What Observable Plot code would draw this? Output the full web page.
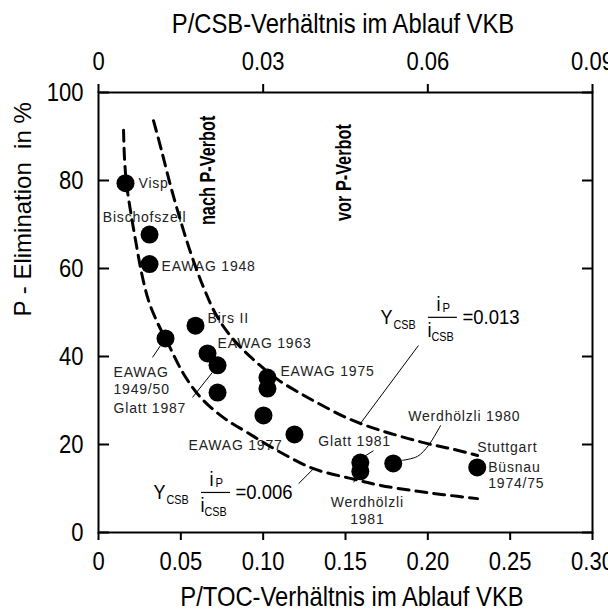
<!DOCTYPE html>
<html><head><meta charset="utf-8">
<script src="https://cdn.jsdelivr.net/npm/d3@7"></script>
<script src="https://cdn.jsdelivr.net/npm/@observablehq/plot@0.6"></script>
<style>html,body{margin:0;padding:0;background:#fff} svg text{white-space:pre}</style>
</head><body><div id="chart"></div>
<script>
// ---------- data ----------
const siteNames = ["Visp","Bischofszell","EAWAG 1948","EAWAG 1949/50","Birs II","EAWAG 1963","Glatt 1987","EAWAG (o.N.)","EAWAG 1975 a","EAWAG 1975 b","EAWAG 1977","Glatt (o.N.)","Glatt 1981","Werdhölzli 1981","Werdhölzli 1980","Stuttgart Büsnau 1974/75"];
const pToc  = [0.0164,0.031,0.031,0.0407,0.0589,0.0662,0.0723,0.0723,0.1026,0.1026,0.1002,0.119,0.159,0.159,0.179,0.230];
const pElim = [79.4,67.7,61.0,44.1,47.0,40.7,38.0,31.8,35.2,32.7,26.6,22.3,15.9,13.9,15.7,14.8];

// lines of constant Y_CSB * iP/iCSB
const ycsbValues = ["0.006","0.013"];
const lowToc  = [0.0152,0.0158,0.0170,0.0194,0.0225,0.0261,0.0304,0.0358,0.0419,0.0516,0.0620,0.0759,0.0905,0.1087,0.1306,0.1530,0.1713,0.1913,0.2095,0.2302];
const lowElim = [91.4,85.0,79.3,73.2,66.4,59.1,52.7,47.7,43.2,36.1,30.7,26.1,22.7,18.6,14.5,12.3,10.7,9.5,8.6,7.7];
const highToc  = [0.0334,0.0383,0.0437,0.0498,0.0565,0.0638,0.0717,0.0814,0.0935,0.1087,0.1227,0.1348,0.1488,0.1610,0.1773,0.1998,0.2156,0.2302];
const highElim = [93.6,86.8,78.9,70.9,63.0,55.7,49.3,44.1,39.5,34.8,31.6,29.1,26.4,24.5,22.5,20.2,18.9,17.5];

// axes
const tocTicks = [0,0.05,0.10,0.15,0.20,0.25,0.30];
const tocTickLabels = ["0","0.05","0.10","0.15","0.20","0.25","0.30"];
const csbTicks = [0,0.03,0.06,0.09];
const csbTickLabels = ["0","0.03","0.06","0.09"];
const elimTicks = [0,20,40,60,80,100];
const tocAxisMax = 0.30, csbAxisMax = 0.09;

const xTitleBottom = "P/TOC-Verhältnis im Ablauf VKB";
const xTitleTop = "P/CSB-Verhältnis im Ablauf VKB";
const yTitle = "P - Elimination  in %";
const periodLabels = ["nach P-Verbot","vor P-Verbot"];

// ---------- layout ----------
const W = 608, H = 611, ML = 98, MR = 16, MT = 92, MB = 79;
const FW = W - ML - MR;
const FONT = "'Liberation Sans', Arial, Helvetica, sans-serif";

const points = pToc.map((x,i) => ({x, y: pElim[i], name: siteNames[i]}));
const lowCurve = lowToc.map((x,i) => ({x, y: lowElim[i]}));
const highCurve = highToc.map((x,i) => ({x, y: highElim[i]}));

// label placement: point index + pixel offsets
const labelLayout = [
  {text:"Visp", p:0, dx:13, dy:0, anchor:"start"},
  {text:"Bischofszell", p:1, dx:-5, dy:-18, anchor:"middle"},
  {text:"EAWAG 1948", p:2, dx:12, dy:2, anchor:"start"},
  {text:"EAWAG\n1949/50", p:3, dx:-52, dy:42, anchor:"start"},
  {text:"Glatt 1987", p:6, dx:-104, dy:42, anchor:"start"},
  {text:"Birs II", p:4, dx:12, dy:-8, anchor:"start"},
  {text:"EAWAG 1963", p:5, dx:10, dy:-11, anchor:"start"},
  {text:"EAWAG 1975", p:8, dx:13, dy:-7, anchor:"start"},
  {text:"EAWAG 1977", p:10, dx:-75, dy:29, anchor:"start"},
  {text:"Glatt 1981", p:12, dx:-42, dy:-22, anchor:"start"},
  {text:"Werdhölzli\n1981", p:13, dx:7, dy:39, anchor:"middle"},
  {text:"Werdhölzli 1980", p:14, dx:15, dy:-48, anchor:"start"},
  {text:"Stuttgart", p:15, dx:0, dy:-21, anchor:"start"},
  {text:"Büsnau\n1974/75", p:15, dx:11, dy:7.5, anchor:"start"}
];

// leader lines (data units)
const leaders = [
  {x1:0.0328,y1:39.8,x2:0.0377,y2:42.5},
  {x1:0.0571,y1:30.7,x2:0.0692,y2:36.4},
  {x1:0.1615,y1:17.3,x2:0.1670,y2:18.6},
  {x1:0.1549,y1:11.4,x2:0.1579,y2:13.0},
  {x1:0.1943,y1:42.5,x2:0.1591,y2:24.8},
  {x1:0.1215,y1:11.1,x2:0.1306,y2:14.5}
];
const werd80Leader = [{x:0.1846,y:16.4},{x:0.1937,y:17.3},{x:0.2004,y:19.8},{x:0.2077,y:24.3}];

const formulaAnchors = [{x:0.0334, y:9.1, v:ycsbValues[0]}, {x:0.1712, y:48.9, v:ycsbValues[1]}];
const formulaPieces = [
  {t:"Y", dx:0, dy:0, size:20},
  {t:"CSB", dx:13, dy:8, size:12},
  {t:"i", dx:56, dy:-13, size:20},
  {t:"P", dx:62, dy:-9, size:12.5},
  {t:"i", dx:47, dy:13, size:20},
  {t:"CSB", dx:51, dy:20, size:12}
];
const periodAnchors = [{x:0.0662, y:82.3}, {x:0.1488, y:81.8}];

const fracSymbol = {draw(ctx){ ctx.moveTo(-14.5,0); ctx.lineTo(14.5,0); }};

const labelMarks = labelLayout.map(l => Plot.text([points[l.p]], {
  x:"x", y:"y", text:()=>l.text, dx:l.dx, dy:l.dy, textAnchor:l.anchor,
  fontSize:14, lineHeight:1.18, fill:"#222", ariaDescription:"label"
}));
const formulaMarks = [];
for (const pc of formulaPieces) {
  formulaMarks.push(Plot.text(formulaAnchors, {x:"x", y:"y", text:()=>pc.t, dx:pc.dx, dy:pc.dy, textAnchor:"start", fontSize:pc.size, fill:"black", ariaDescription:"cond:0.9"}));
}
formulaMarks.push(Plot.text(formulaAnchors, {x:"x", y:"y", text:d=>"="+d.v, dx:82, dy:0, textAnchor:"start", fontSize:19.5, fill:"black", ariaDescription:"cond:0.95"}));
formulaMarks.push(Plot.dot(formulaAnchors, {x:"x", y:"y", dx:62, dy:0, symbol:fracSymbol, stroke:"black", fill:"none", strokeWidth:1.2}));

const findLabel = (ticks, labels, scale) => d => {
  const i = ticks.findIndex(v => Math.abs(v*scale - d) < 1e-9);
  return i < 0 ? "" : labels[i];
};

const chart = Plot.plot({
  width: W, height: H,
  marginLeft: ML, marginRight: MR, marginTop: MT, marginBottom: MB,
  x: {domain:[0, tocAxisMax], label:null},
  y: {domain:[0, 100], label:null},
  style: {fontFamily: FONT, background:"white", color:"black", overflow:"visible"},
  marks: [
    ...labelMarks,
    Plot.link(leaders, {x1:"x1", y1:"y1", x2:"x2", y2:"y2", stroke:"black", strokeWidth:1}),
    Plot.line(werd80Leader, {x:"x", y:"y", curve:"catmull-rom", stroke:"black", strokeWidth:1}),
    ...formulaMarks,
    Plot.text(periodAnchors, {x:"x", y:"y", text:(d,i)=>periodLabels[i], rotate:-90, fontSize:22, fontWeight:"bold", fill:"black", ariaDescription:"cond:0.74"}),
    Plot.line(lowCurve, {x:"x", y:"y", curve:"catmull-rom", stroke:"black", strokeWidth:3, strokeDasharray:"11,7"}),
    Plot.line(highCurve, {x:"x", y:"y", curve:"catmull-rom", stroke:"black", strokeWidth:3, strokeDasharray:"11,7"}),
    Plot.dot(points, {x:"x", y:"y", r:9, fill:"black", stroke:"none"}),
    Plot.frame({stroke:"black", strokeWidth:2}),
    Plot.axisX(tocTicks, {anchor:"bottom", tickSize:8, tickPadding:12, strokeWidth:2, fontSize:25, label:null, tickFormat:findLabel(tocTicks, tocTickLabels, 1), ariaDescription:"cond:0.88"}),
    Plot.axisX(csbTicks.map(v => v / csbAxisMax * tocAxisMax), {anchor:"top", tickSize:9, tickPadding:14, strokeWidth:2, fontSize:25, label:null, tickFormat:findLabel(csbTicks, csbTickLabels, tocAxisMax/csbAxisMax), ariaDescription:"cond:0.88"}),
    Plot.axisY(elimTicks, {anchor:"left", tickSize:0, tickPadding:15, fontSize:25, label:null, tickFormat:d=>String(d), ariaDescription:"cond:0.88"}),
    Plot.axisY(elimTicks, {anchor:"right", tickSize:10, strokeWidth:2, dx:-FW, label:null, tickFormat:()=>""}),
    Plot.axisY(elimTicks, {anchor:"left", tickSize:10, strokeWidth:2, dx:FW, label:null, tickFormat:()=>""}),
    Plot.text([0], {frameAnchor:"bottom", text:()=>xTitleBottom, dx:6.5, dy:65, fontSize:28, lineAnchor:"middle", fill:"black", ariaDescription:"cond:0.85"}),
    Plot.text([0], {frameAnchor:"top", text:()=>xTitleTop, dx:-2.5, dy:-68, fontSize:28, lineAnchor:"middle", fill:"black", ariaDescription:"cond:0.85"}),
    Plot.text([0], {frameAnchor:"left", text:()=>yTitle, rotate:-90, dx:-75, dy:4, fontSize:24, lineAnchor:"middle", fill:"black"})
  ]
});

// condense text horizontally where requested (append a scale to each text's own transform)
chart.querySelectorAll("g[aria-description^='cond:']").forEach(g => {
  const sx = +g.getAttribute("aria-description").split(":")[1];
  g.querySelectorAll("text").forEach(t => {
    const tr = t.getAttribute("transform") || "";
    t.setAttribute("transform", `${tr} scale(${sx},1)`);
  });
});
chart.querySelectorAll("g[aria-description='label'] text").forEach(t => t.setAttribute("letter-spacing", "0.8"));

document.getElementById("chart").appendChild(chart);
</script></body></html>
